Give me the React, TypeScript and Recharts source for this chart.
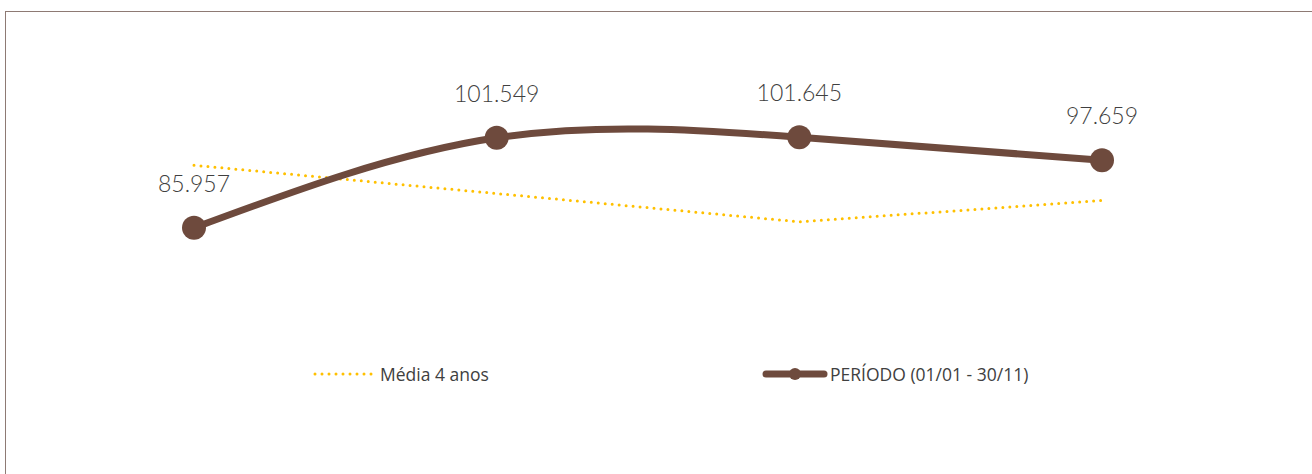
import React from 'react'
import { LabelList, Legend, Line, LineChart, XAxis, YAxis } from 'recharts'

// categorias (eixo X oculto no original)
const CATEGORIAS = ['1', '2', '3', '4']
// PERÍODO (01/01 - 30/11)
const PERIODO = [85957, 101549, 101645, 97659]
// Média 4 anos (aproximado)
const MEDIA = [96800, 91900, 87000, 90700]

const BROWN = '#6e4a3d'
const GOLD = '#ffc000'
const TEXT = '#404040'
const FONT = '"Open Sans", "Noto Sans", sans-serif'
const LABEL_FONT = 'Lato, "Open Sans", sans-serif'

const data = CATEGORIAS.map((c, i) => ({ cat: c, periodo: PERIODO[i], media: MEDIA[i] }))

function ChartLegend() {
  return (
    <div
      style={{
        display: 'flex',
        alignItems: 'center',
        paddingLeft: 313,
        fontFamily: FONT,
        fontSize: 17.5,
        color: TEXT,
      }}
    >
      <div style={{ display: 'flex', alignItems: 'center', width: 449 }}>
        <svg width={62} height={10} style={{ marginRight: 5 }}>
          <line x1={2} y1={5} x2={60} y2={5} stroke={GOLD} strokeWidth={3} strokeDasharray="0 7" strokeLinecap="round" />
        </svg>
        <span>Média 4 anos</span>
      </div>
      <div style={{ display: 'flex', alignItems: 'center' }}>
        <svg width={66} height={14} style={{ marginRight: 2 }}>
          <line x1={4} y1={7} x2={62} y2={7} stroke={BROWN} strokeWidth={7} strokeLinecap="round" />
          <circle cx={33} cy={7} r={6} fill={BROWN} />
        </svg>
        <span>PERÍODO (01/01 - 30/11)</span>
      </div>
    </div>
  )
}

export default function App() {
  return (
    <div
      style={{
        position: 'absolute',
        left: 0,
        top: 0,
        width: 1312,
        height: 474,
        overflow: 'hidden',
        background: '#fff',
      }}
    >
      <div
        style={{
          position: 'absolute',
          left: 5,
          top: 11,
          width: 1330,
          height: 490,
          border: '1.5px solid #8e7a74',
        }}
      />
      <div style={{ position: 'absolute', left: 0, top: 0 }}>
        <LineChart width={1312} height={474} data={data} margin={{ top: 89, right: 210, bottom: 154, left: 194 }}>
          <XAxis dataKey="cat" hide />
          <YAxis hide domain={[70000, 110000]} />
          <Legend
            layout="horizontal"
            verticalAlign="middle"
            align="center"
            content={<ChartLegend />}
            wrapperStyle={{ top: 362, left: 0, width: 1312 }}
          />
          <Line
            type="linear"
            dataKey="media"
            name="Média 4 anos"
            stroke={GOLD}
            strokeWidth={3}
            strokeDasharray="0 7"
            strokeLinecap="round"
            dot={false}
            activeDot={false}
            isAnimationActive={false}
          />
          <Line
            type="natural"
            dataKey="periodo"
            name="PERÍODO (01/01 - 30/11)"
            stroke={BROWN}
            strokeWidth={7}
            strokeLinecap="round"
            dot={{ r: 12, fill: BROWN, stroke: 'none' }}
            activeDot={false}
            isAnimationActive={false}
          >
            <LabelList
              dataKey="periodo"
              position="top"
              offset={36}
              fontSize={23}
              fontWeight={300}
              fontFamily={LABEL_FONT}
              fill={TEXT}
              formatter={(v: number) => v.toLocaleString('pt-BR')}
            />
          </Line>
        </LineChart>
      </div>
    </div>
  )
}
